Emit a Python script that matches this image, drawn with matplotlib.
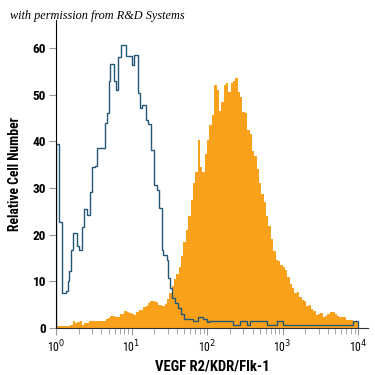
import numpy as np
import matplotlib
matplotlib.use("Agg")
import matplotlib.pyplot as plt
from matplotlib import font_manager
from matplotlib.ticker import LogLocator, NullFormatter, FixedLocator

# --- data --------------------------------------------------------------
# orange (stained) histogram: 128 log-spaced bins between 10^0 and 10^4
stained_counts = [
    0.5, 0.5, 0.5, 0.5, 0.5, 0.5, 0.6, 1.6, 1.1, 1.3,
    1.6, 0.7, 1.0, 1.1, 1.6, 1.6, 1.6, 1.6, 1.6, 1.6,
    1.5, 2.0, 2.1, 2.5, 2.5, 2.3, 2.4, 2.9, 2.9, 3.6,
    3.5, 3.3, 3.0, 2.8, 3.4, 3.8, 3.9, 4.6, 4.8, 5.3,
    5.7, 5.8, 5.6, 5.0, 4.9, 4.8, 5.2, 6.2, 7.6, 9.0,
    10.5, 11.5, 13.0, 15.5, 18.5, 21.0, 24.0, 27.5, 31.0, 33.5,
    40.3, 34.5, 33.5, 37.4, 40.3, 43.5, 45.6, 52.0, 51.0, 46.5,
    48.5, 52.2, 52.6, 50.5, 52.5, 53.0, 53.5, 50.5, 49.5, 46.3,
    46.0, 42.4, 41.5, 38.0, 36.8, 34.0, 31.0, 28.8, 27.0, 24.0,
    21.8, 19.0, 16.5, 14.6, 14.3, 13.6, 13.0, 12.4, 11.0, 9.5,
    8.5, 7.6, 7.8, 6.7, 6.1, 5.8, 4.8, 5.0, 4.0, 3.6,
    2.8, 3.0, 3.2, 2.4, 2.5, 3.0, 3.5, 3.4, 3.0, 2.5,
    2.4, 2.4, 2.3, 1.8, 1.7, 1.7, 1.6, 1.6,
]

# blue (isotype control) outline: step edges in log10 units and heights
control_log_edges = [
    0.000, 0.044, 0.075, 0.128, 0.155, 0.172, 0.195, 0.221, 0.274, 0.301,
    0.340, 0.371, 0.407, 0.450, 0.473, 0.517, 0.547, 0.649, 0.672, 0.698,
    0.719, 0.772, 0.795, 0.825, 0.865, 0.923, 1.003, 1.037, 1.082, 1.113,
    1.135, 1.188, 1.215, 1.258, 1.302, 1.334, 1.368, 1.400, 1.421, 1.466,
    1.487, 1.510, 1.540, 1.576, 1.620, 1.656, 1.699, 1.819, 1.881, 1.951,
    1.996, 2.026, 2.344, 2.437, 2.530, 2.570, 2.795, 2.927, 3.007, 3.934,
    4.000,
]
control_counts = [
    39.5, 22.7, 7.5, 8.0, 10.0, 12.3, 16.7, 20.4, 17.5, 16.8,
    21.7, 25.5, 24.3, 29.2, 34.5, 34.8, 38.5, 44.0, 46.0, 53.0,
    56.6, 53.0, 51.0, 58.2, 60.6, 58.4, 56.4, 58.5, 50.4, 47.1,
    47.8, 44.6, 43.7, 38.1, 30.6, 29.6, 25.7, 16.7, 15.6, 14.6,
    10.7, 8.6, 6.4, 5.4, 4.3, 2.9, 2.0, 1.4, 2.4, 2.0,
    1.2, 1.5, 0.6, 1.5, 0.6, 1.5, 0.6, 1.4, 0.6, 1.6,
]

y_ticks = [0, 10, 20, 30, 40, 50, 60]
x_label = "VEGF R2/KDR/Flk-1"
y_label = "Relative Cell Number"
credit = "with permission from R&D Systems"

ORANGE = "#f9a11b"
BLUE = "#245677"

# pick a narrow sans if one is installed
installed = {f.name for f in font_manager.fontManager.ttflist}
narrow = [n for n in ("Roboto Condensed", "DejaVu Sans Condensed",
                      "Liberation Sans Narrow", "Liberation Sans") if n in installed]
narrow = narrow[:1] + ["DejaVu Sans"]

fig = plt.figure(figsize=(3.75, 3.75), dpi=100)
ax = fig.add_axes([0.1493, 0.1253, 0.832, 0.821])

stained_edges = np.logspace(0, 4, len(stained_counts) + 1)
ax.stairs(stained_counts, stained_edges, fill=True, color=ORANGE, linewidth=0)
ax.stairs(control_counts, 10 ** np.array(control_log_edges), baseline=0,
          color=BLUE, linewidth=1.0)

ax.set_xscale("log")
ax.set_xlim(1, 10 ** 4.13)
ax.set_ylim(0, 66)

ax.xaxis.set_major_locator(FixedLocator([1, 10, 100, 1000, 10000]))
ax.xaxis.set_minor_locator(LogLocator(base=10, subs=np.arange(2, 10), numticks=20))
ax.xaxis.set_minor_formatter(NullFormatter())
ax.set_xticklabels([f"10$^{{{i}}}$" for i in range(5)])
ax.set_yticks(y_ticks)

for s in ("top", "right"):
    ax.spines[s].set_visible(False)
ax.spines["left"].set_color("black")
ax.spines["bottom"].set_color("#333333")
ax.tick_params(axis="both", which="both", direction="out", color="#999999")
ax.tick_params(axis="x", which="major", length=5, pad=3, labelsize=8.5)
ax.tick_params(axis="x", which="minor", length=4)
ax.tick_params(axis="y", length=5, labelsize=9.5, pad=2)
for lab in ax.get_yticklabels():
    lab.set_fontweight("bold")
    lab.set_family(narrow)
for lab in ax.get_xticklabels():
    lab.set_family(narrow)

ax.set_xlabel(x_label, fontsize=10.5, fontweight="bold", family=narrow, labelpad=3)
ax.set_ylabel(y_label, fontsize=9.8, fontweight="bold", family=narrow, labelpad=8)

fig.text(0.027, 0.958, credit, fontsize=8.8, style="italic",
         family=["Liberation Serif", "DejaVu Serif"], va="center")

fig.savefig("out.png", dpi=100)
